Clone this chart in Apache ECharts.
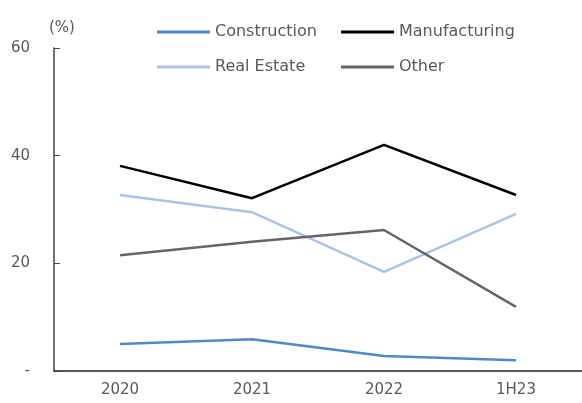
<!DOCTYPE html>
<html>
<head>
<meta charset="utf-8">
<script src="https://cdn.jsdelivr.net/npm/echarts@6/dist/echarts.min.js"></script>
<style>
html, body { margin: 0; padding: 0; background: #fff; }
#main { width: 582px; height: 403px; }
</style>
</head>
<body>
<div id="main"></div>
<script>
// 数据
var categories = ['2020', '2021', '2022', '1H23'];
var construction = [5.0, 5.9, 2.8, 2.0];
var manufacturing = [38.1, 32.1, 42.0, 32.7];
var realEstate = [32.7, 29.5, 18.4, 29.2];
var other = [21.5, 24.0, 26.2, 11.9];

var myChart = echarts.init(document.getElementById('main'));

var fontFamily = 'DejaVu Sans';
var textColor = '#595959';

var makeLine = function (name, data, color) {
	return {
		name: name,
		type: 'line',
		data: data,
		symbol: 'none',
		lineStyle: { color: color, width: 2.5 },
		itemStyle: { color: color }
	}
}

var legendText = { color: textColor, fontSize: 16, fontFamily: fontFamily, lineHeight: 14 };

var option = {
	animation: false,
	title: {
		text: '(%)',
		left: 44,
		top: 16,
		textStyle: { color: textColor, fontSize: 15, fontWeight: 'normal', fontFamily: fontFamily }
	},
	legend: [{
		orient: 'vertical',
		left: 152,
		top: 19,
		icon: 'rect',
		itemWidth: 53,
		itemHeight: 3,
		itemGap: 19,
		textStyle: legendText,
		data: ['Construction', 'Real Estate']
	}, {
		orient: 'vertical',
		left: 336,
		top: 19,
		icon: 'rect',
		itemWidth: 53,
		itemHeight: 3,
		itemGap: 19,
		textStyle: legendText,
		data: ['Manufacturing', 'Other']
	}],
	grid: {
		left: 54,
		right: 0,
		top: 48,
		bottom: 32
	},
	xAxis: {
		type: 'category',
		data: categories,
		axisLine: { lineStyle: { color: '#222', width: 1.5 } },
		axisTick: { inside: true, length: 6, lineStyle: { color: '#222' } },
		axisLabel: { color: textColor, fontSize: 15, fontFamily: fontFamily, margin: 12 }
	},
	yAxis: {
		type: 'value',
		min: 0,
		max: 60,
		interval: 20,
		splitLine: { show: false },
		axisLine: { show: true, lineStyle: { color: '#444', width: 1.5 } },
		axisTick: { show: true, inside: true, length: 6, lineStyle: { color: '#444' } },
		axisLabel: {
			color: textColor,
			fontSize: 15,
			fontFamily: fontFamily,
			margin: 24,
			formatter: function (v) { return v === 0 ? '-' : v }
		}
	},
	series: [
		makeLine('Construction', construction, '#4a8bd0'),
		makeLine('Manufacturing', manufacturing, '#000000'),
		makeLine('Real Estate', realEstate, '#a9c3e9'),
		makeLine('Other', other, '#666666')
	]
};

myChart.setOption(option);
</script>
</body>
</html>
